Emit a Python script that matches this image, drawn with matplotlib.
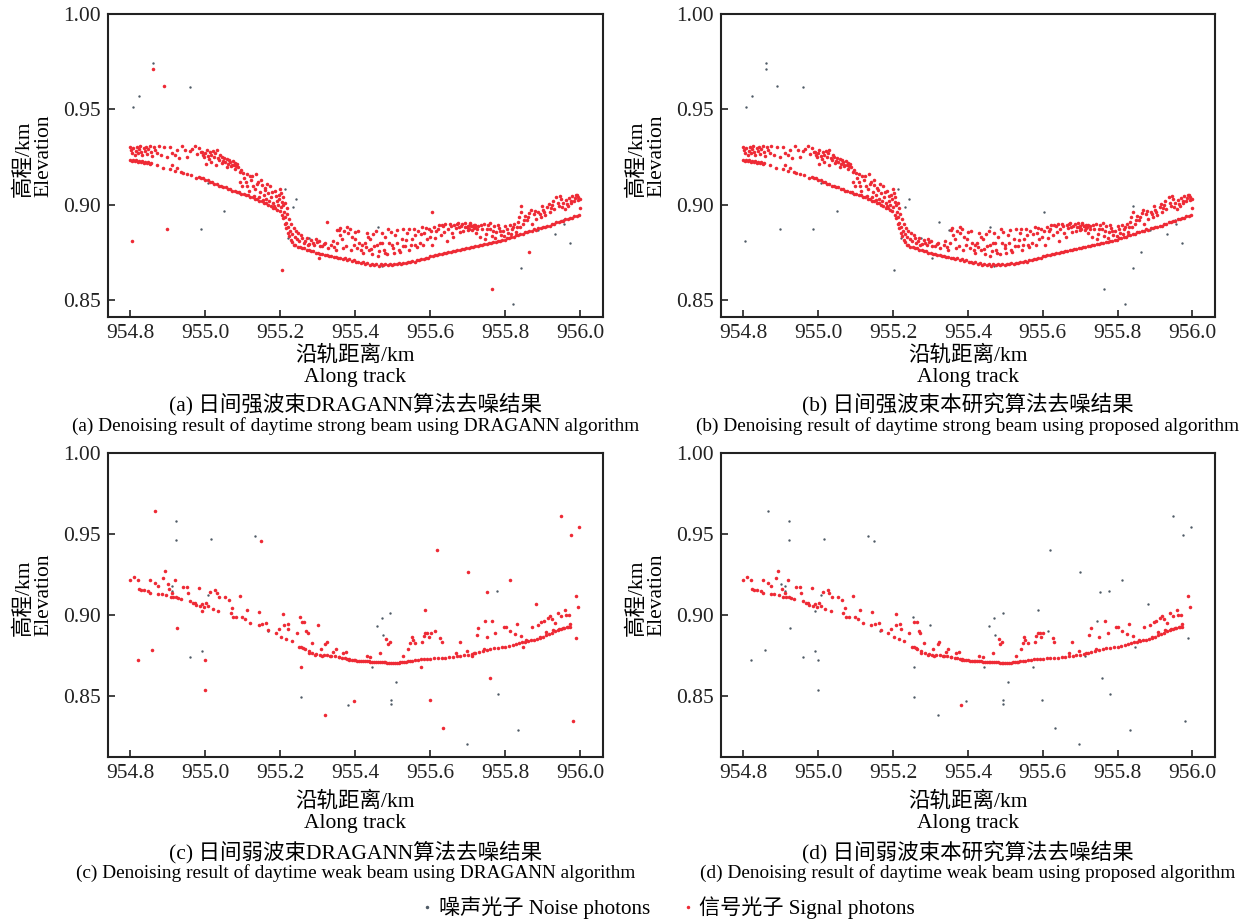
import numpy as np
import matplotlib
matplotlib.use('Agg')
import matplotlib.pyplot as plt
from matplotlib.lines import Line2D

plt.rcParams['font.family'] = ['Liberation Serif', 'Noto Sans CJK SC']
plt.rcParams['axes.unicode_minus'] = False

SIGNAL_COLOR = '#ee2a35'
NOISE_COLOR = '#4f5b66'

# ---- strong beam, daytime ----
# ground return trace
strong_ground = [
    (954.800, 0.9236), (954.804, 0.9230), (954.808, 0.9234), (954.812, 0.9227), (954.816, 0.9232),
    (954.820, 0.9225), (954.824, 0.9230), (954.828, 0.9222), (954.832, 0.9227), (954.836, 0.9219),
    (954.840, 0.9224), (954.844, 0.9217), (954.848, 0.9222), (954.852, 0.9214), (954.856, 0.9219),
    (954.872, 0.9207), (954.888, 0.9193), (954.905, 0.9186), (954.920, 0.9176), (954.935, 0.9171),
    (954.950, 0.9158), (954.962, 0.9153), (954.975, 0.9141),
    (954.982, 0.9147), (954.988, 0.9138), (954.994, 0.9138), (955.000, 0.9128), (955.006, 0.9128),
    (955.012, 0.9118), (955.018, 0.9119), (955.024, 0.9108), (955.030, 0.9108), (955.036, 0.9098),
    (955.042, 0.9099), (955.048, 0.9090), (955.054, 0.9090), (955.060, 0.9081), (955.066, 0.9082),
    (955.072, 0.9072), (955.078, 0.9073), (955.084, 0.9064), (955.090, 0.9065), (955.096, 0.9057),
    (955.102, 0.9057), (955.108, 0.9048), (955.114, 0.9048), (955.120, 0.9038), (955.126, 0.9038),
    (955.132, 0.9028), (955.138, 0.9028), (955.144, 0.9018), (955.150, 0.9017), (955.156, 0.9008),
    (955.162, 0.9006), (955.168, 0.8996), (955.174, 0.8994), (955.180, 0.8983), (955.186, 0.8980),
    (955.192, 0.8970), (955.198, 0.8964), (955.204, 0.8943), (955.208, 0.8927), (955.212, 0.8898),
    (955.216, 0.8877), (955.220, 0.8853), (955.224, 0.8837), (955.228, 0.8813), (955.232, 0.8802),
    (955.236, 0.8788), (955.240, 0.8786), (955.246, 0.8777), (955.252, 0.8777), (955.258, 0.8770),
    (955.264, 0.8770), (955.270, 0.8763), (955.276, 0.8763), (955.282, 0.8756), (955.288, 0.8755),
    (955.294, 0.8748), (955.300, 0.8748), (955.306, 0.8741), (955.312, 0.8742), (955.318, 0.8736),
    (955.324, 0.8737), (955.330, 0.8731), (955.336, 0.8732), (955.342, 0.8725), (955.348, 0.8727),
    (955.354, 0.8720), (955.360, 0.8722), (955.366, 0.8715), (955.372, 0.8717), (955.378, 0.8710),
    (955.384, 0.8712), (955.390, 0.8705), (955.396, 0.8707), (955.402, 0.8700), (955.408, 0.8701),
    (955.414, 0.8695), (955.420, 0.8696), (955.426, 0.8690), (955.432, 0.8691), (955.438, 0.8685),
    (955.444, 0.8687), (955.450, 0.8681), (955.456, 0.8686), (955.462, 0.8680), (955.468, 0.8686),
    (955.474, 0.8683), (955.480, 0.8686), (955.486, 0.8684), (955.492, 0.8689), (955.498, 0.8684),
    (955.504, 0.8690), (955.510, 0.8687), (955.516, 0.8692), (955.522, 0.8690), (955.528, 0.8695),
    (955.534, 0.8693), (955.540, 0.8699), (955.546, 0.8697), (955.552, 0.8703), (955.558, 0.8701),
    (955.564, 0.8708), (955.570, 0.8707), (955.576, 0.8714), (955.582, 0.8714), (955.588, 0.8722),
    (955.594, 0.8722), (955.600, 0.8730), (955.606, 0.8730), (955.612, 0.8737), (955.618, 0.8736),
    (955.624, 0.8743), (955.630, 0.8741), (955.636, 0.8748), (955.642, 0.8746), (955.648, 0.8753),
    (955.654, 0.8751), (955.660, 0.8757), (955.666, 0.8756), (955.672, 0.8762), (955.678, 0.8760),
    (955.684, 0.8767), (955.690, 0.8765), (955.696, 0.8772), (955.702, 0.8770), (955.708, 0.8777),
    (955.714, 0.8775), (955.720, 0.8782), (955.726, 0.8780), (955.732, 0.8787), (955.738, 0.8786),
    (955.744, 0.8792), (955.750, 0.8791), (955.756, 0.8798), (955.762, 0.8797), (955.768, 0.8803),
    (955.774, 0.8802), (955.780, 0.8809), (955.786, 0.8808), (955.792, 0.8815), (955.798, 0.8814),
    (955.804, 0.8822), (955.810, 0.8822), (955.816, 0.8830), (955.822, 0.8830), (955.828, 0.8838),
    (955.834, 0.8838), (955.840, 0.8846), (955.846, 0.8846), (955.852, 0.8854), (955.858, 0.8854),
    (955.864, 0.8862), (955.870, 0.8862), (955.876, 0.8870), (955.882, 0.8869), (955.888, 0.8876),
    (955.894, 0.8875), (955.900, 0.8882), (955.906, 0.8882), (955.912, 0.8890), (955.918, 0.8890),
    (955.924, 0.8898), (955.930, 0.8898), (955.936, 0.8906), (955.942, 0.8906), (955.948, 0.8914),
    (955.954, 0.8914), (955.960, 0.8922), (955.966, 0.8922), (955.972, 0.8930), (955.978, 0.8931),
    (955.984, 0.8939), (955.990, 0.8939), (955.996, 0.8947),
]

# canopy returns above the ground trace
strong_canopy = [
    (954.800, 0.9300), (954.802, 0.9285), (954.805, 0.9270), (954.808, 0.9295), (954.811, 0.9262),
    (954.814, 0.9280), (954.817, 0.9301), (954.820, 0.9268), (954.823, 0.9290), (954.826, 0.9305),
    (954.829, 0.9275), (954.832, 0.9258), (954.835, 0.9295), (954.838, 0.9282), (954.842, 0.9300),
    (954.845, 0.9265), (954.848, 0.9290), (954.851, 0.9305), (954.855, 0.9278), (954.858, 0.9255),
    (954.862, 0.9300), (954.866, 0.9285), (954.870, 0.9268), (954.875, 0.9305), (954.882, 0.9262),
    (954.890, 0.9300), (954.897, 0.9248), (954.905, 0.9300), (954.912, 0.9270), (954.918, 0.9262),
    (954.924, 0.9285), (954.930, 0.9243), (954.938, 0.9305), (954.945, 0.9285), (954.952, 0.9250),
    (954.958, 0.9280), (954.965, 0.9290), (954.972, 0.9305), (954.978, 0.9265), (954.984, 0.9295),
    (954.988, 0.9278), (954.910, 0.9205), (954.925, 0.9190), (954.940, 0.9165),
    (954.990, 0.9275), (954.993, 0.9260), (954.997, 0.9248), (955.000, 0.9270), (955.003, 0.9285),
    (955.006, 0.9255), (955.010, 0.9240), (955.013, 0.9275), (955.016, 0.9262), (955.020, 0.9280),
    (955.023, 0.9250), (955.026, 0.9268), (955.030, 0.9285), (955.033, 0.9245), (955.036, 0.9235),
    (955.040, 0.9262), (955.043, 0.9250), (955.047, 0.9230), (955.050, 0.9245), (955.053, 0.9225),
    (955.057, 0.9240), (955.060, 0.9215), (955.063, 0.9235), (955.066, 0.9225), (955.070, 0.9210),
    (955.073, 0.9230), (955.076, 0.9205), (955.079, 0.9220), (955.082, 0.9200), (955.085, 0.9215),
    (955.088, 0.9195), (955.095, 0.9180), (955.100, 0.9165), (955.104, 0.9140), (955.108, 0.9120),
    (955.112, 0.9095), (955.118, 0.9150), (955.122, 0.9130), (955.127, 0.9100), (955.132, 0.9080),
    (955.136, 0.9160), (955.140, 0.9120), (955.145, 0.9065), (955.150, 0.9105), (955.155, 0.9050),
    (955.158, 0.9085), (955.162, 0.9030), (955.167, 0.9060), (955.172, 0.9095), (955.176, 0.9040),
    (955.180, 0.9010), (955.185, 0.9070), (955.190, 0.9020), (955.195, 0.9050), (955.199, 0.9080),
    (955.202, 0.9060), (955.206, 0.9040), (955.208, 0.9000), (955.210, 0.8960), (955.212, 0.8935),
    (955.215, 0.8905), (955.218, 0.8950), (955.220, 0.8880), (955.223, 0.8925), (955.226, 0.8860),
    (955.229, 0.8900), (955.232, 0.8845), (955.235, 0.8875), (955.238, 0.8830), (955.241, 0.8860),
    (955.244, 0.8820), (955.247, 0.8850), (955.250, 0.8810), (955.255, 0.8840), (955.262, 0.8800),
    (955.270, 0.8825), (955.276, 0.8795), (955.282, 0.8815), (955.290, 0.8790), (955.297, 0.8805),
    (955.305, 0.8785), (955.312, 0.8780), (955.320, 0.8800), (955.335, 0.8790), (955.343, 0.8775),
    (955.355, 0.8865), (955.360, 0.8840), (955.365, 0.8820), (955.370, 0.8860), (955.375, 0.8780),
    (955.380, 0.8850), (955.385, 0.8870), (955.390, 0.8830), (955.395, 0.8790), (955.400, 0.8855),
    (955.405, 0.8770), (955.410, 0.8800), (955.415, 0.8760), (955.420, 0.8745), (955.425, 0.8800),
    (955.430, 0.8850), (955.436, 0.8760), (955.440, 0.8820), (955.445, 0.8740), (955.450, 0.8780),
    (955.455, 0.8860), (955.460, 0.8730), (955.466, 0.8800), (955.470, 0.8850), (955.475, 0.8760),
    (955.480, 0.8830), (955.485, 0.8740), (955.490, 0.8800), (955.495, 0.8855), (955.500, 0.8770),
    (955.506, 0.8840), (955.512, 0.8865), (955.518, 0.8750), (955.523, 0.8820), (955.528, 0.8870),
    (955.533, 0.8780), (955.538, 0.8850), (955.544, 0.8760), (955.550, 0.8820), (955.555, 0.8870),
    (955.560, 0.8790), (955.566, 0.8860), (955.572, 0.8800), (955.578, 0.8880), (955.584, 0.8850),
    (955.590, 0.8820), (955.595, 0.8870), (955.605, 0.8790), (955.610, 0.8880), (955.616, 0.8860),
    (955.622, 0.8895), (955.628, 0.8840), (955.634, 0.8885), (955.640, 0.8900), (955.646, 0.8870),
    (955.652, 0.8900), (955.658, 0.8850), (955.664, 0.8895), (955.670, 0.8900), (955.676, 0.8880),
    (955.682, 0.8890), (955.688, 0.8860), (955.693, 0.8905), (955.697, 0.8880), (955.700, 0.8890),
    (955.703, 0.8870), (955.706, 0.8900), (955.709, 0.8885), (955.712, 0.8865), (955.715, 0.8895),
    (955.718, 0.8880), (955.722, 0.8850), (955.727, 0.8890), (955.732, 0.8830), (955.737, 0.8870),
    (955.742, 0.8900), (955.748, 0.8845), (955.753, 0.8895), (955.758, 0.8870), (955.764, 0.8835),
    (955.770, 0.8890), (955.776, 0.8855), (955.782, 0.8875), (955.788, 0.8840), (955.794, 0.8860),
    (955.800, 0.8890), (955.806, 0.8850), (955.812, 0.8895), (955.818, 0.8870), (955.824, 0.8900),
    (955.830, 0.8880), (955.836, 0.8935), (955.841, 0.8960), (955.846, 0.8900), (955.852, 0.8940),
    (955.858, 0.8920), (955.864, 0.8955), (955.870, 0.8900), (955.876, 0.8950), (955.882, 0.8925),
    (955.888, 0.8960), (955.894, 0.8935), (955.900, 0.8970), (955.906, 0.8945), (955.912, 0.8985),
    (955.918, 0.8960), (955.924, 0.9000), (955.930, 0.8975), (955.936, 0.9040), (955.942, 0.8990),
    (955.948, 0.9030), (955.954, 0.9010), (955.958, 0.8975), (955.962, 0.9025), (955.966, 0.8995),
    (955.970, 0.9035), (955.974, 0.9010), (955.978, 0.9045), (955.982, 0.9020), (955.986, 0.9035),
    (955.990, 0.9050), (955.994, 0.9040), (955.998, 0.9030), (955.999, 0.8980),
    (955.002, 0.9215), (955.015, 0.9225), (955.028, 0.9210), (955.045, 0.9218), (955.058, 0.9195),
    (955.068, 0.9200), (955.080, 0.9185), (955.092, 0.9170), (955.093, 0.9120), (955.098, 0.9100),
    (955.110, 0.9160), (955.115, 0.9070), (955.125, 0.9150), (955.130, 0.9045), (955.138, 0.9110),
    (955.143, 0.9040), (955.148, 0.9130), (955.153, 0.9025), (955.160, 0.9075), (955.165, 0.9110),
    (955.170, 0.9020), (955.178, 0.9065), (955.183, 0.8995), (955.188, 0.9045), (955.193, 0.9000),
    (955.197, 0.9030), (955.201, 0.8985), (955.205, 0.9015), (955.213, 0.9010), (955.217, 0.8980),
    (955.258, 0.8825), (955.266, 0.8810), (955.273, 0.8790), (955.286, 0.8800), (955.294, 0.8820),
    (955.302, 0.8810), (955.316, 0.8795), (955.326, 0.8770), (955.340, 0.8810), (955.347, 0.8760),
    (955.352, 0.8800), (955.358, 0.8875), (955.368, 0.8770), (955.378, 0.8880), (955.388, 0.8760),
    (955.398, 0.8820), (955.408, 0.8860), (955.418, 0.8790), (955.428, 0.8775), (955.434, 0.8830),
    (955.442, 0.8765), (955.448, 0.8845), (955.458, 0.8790), (955.463, 0.8755), (955.472, 0.8800),
    (955.478, 0.8745), (955.488, 0.8870), (955.498, 0.8790), (955.503, 0.8745), (955.510, 0.8800),
    (955.515, 0.8760), (955.526, 0.8780), (955.536, 0.8815), (955.542, 0.8870), (955.548, 0.8790),
    (955.558, 0.8840), (955.563, 0.8775), (955.575, 0.8845), (955.581, 0.8790), (955.587, 0.8875),
    (955.598, 0.8830), (955.602, 0.8860), (955.613, 0.8825), (955.619, 0.8870), (955.631, 0.8895),
    (955.637, 0.8855), (955.643, 0.8810), (955.655, 0.8885), (955.661, 0.8830), (955.667, 0.8875),
    (955.673, 0.8905), (955.679, 0.8855), (955.685, 0.8900), (955.691, 0.8880), (955.699, 0.8865),
    (955.705, 0.8905), (955.711, 0.8890), (955.716, 0.8875), (955.720, 0.8895), (955.725, 0.8870),
    (955.735, 0.8895), (955.745, 0.8820), (955.750, 0.8870), (955.760, 0.8905), (955.767, 0.8860),
    (955.773, 0.8825), (955.779, 0.8895), (955.785, 0.8860), (955.797, 0.8835), (955.803, 0.8870),
    (955.815, 0.8845), (955.821, 0.8880), (955.827, 0.8855), (955.833, 0.8910), (955.839, 0.8880),
    (955.849, 0.8920), (955.861, 0.8935), (955.867, 0.8970), (955.879, 0.8965), (955.891, 0.8950),
    (955.897, 0.8990), (955.903, 0.8960), (955.915, 0.9005), (955.921, 0.8980), (955.927, 0.9020),
    (955.939, 0.9010), (955.945, 0.9045), (955.951, 0.8985), (955.963, 0.9005), (955.975, 0.9020),
    (955.987, 0.9050), (955.993, 0.9025),
]

# kept by DRAGANN, rejected by the proposed method
strong_outliers = [
    (954.861, 0.9712), (954.889, 0.9621), (954.804, 0.8811), (954.898, 0.8871),
    (955.203, 0.8654), (955.764, 0.8559), (955.862, 0.8753), (955.323, 0.8911),
    (955.604, 0.8960), (955.842, 0.8993), (955.350, 0.8867), (955.303, 0.8719),
]

# rejected by both methods
strong_noise = [
    (954.861, 0.9741), (954.823, 0.9572), (954.807, 0.9514), (954.958, 0.9615),
    (955.049, 0.8967), (954.987, 0.8871), (955.212, 0.9084), (955.242, 0.9030),
    (955.233, 0.8986), (955.221, 0.8825), (955.275, 0.8825), (955.459, 0.8881),
    (955.470, 0.8680), (955.842, 0.8666), (955.819, 0.8477), (955.931, 0.8843),
    (955.973, 0.8797), (955.956, 0.8899), (955.007, 0.9115), (955.090, 0.9059),
    (955.886, 0.8867), (955.953, 0.8920),
]

# ---- weak beam, daytime ----
weak_ground = [
    (955.255, 0.8800), (955.265, 0.8788), (955.275, 0.8775), (955.285, 0.8765), (955.295, 0.8756),
    (955.305, 0.8752), (955.315, 0.8750), (955.325, 0.8748), (955.335, 0.8745), (955.345, 0.8742),
    (955.355, 0.8738), (955.365, 0.8735), (955.372, 0.8730), (955.378, 0.8726), (955.384, 0.8722),
    (955.390, 0.8720), (955.395, 0.8718), (955.400, 0.8717), (955.405, 0.8716), (955.410, 0.8715),
    (955.415, 0.8714), (955.420, 0.8713), (955.425, 0.8712), (955.430, 0.8711), (955.435, 0.8711),
    (955.440, 0.8710), (955.445, 0.8710), (955.450, 0.8709), (955.455, 0.8708), (955.460, 0.8708),
    (955.465, 0.8707), (955.470, 0.8706), (955.475, 0.8706), (955.480, 0.8705), (955.485, 0.8703),
    (955.490, 0.8702), (955.495, 0.8701), (955.500, 0.8700), (955.505, 0.8701), (955.510, 0.8702),
    (955.515, 0.8703), (955.520, 0.8705), (955.525, 0.8706), (955.530, 0.8708), (955.535, 0.8710),
    (955.540, 0.8712), (955.546, 0.8714), (955.552, 0.8716), (955.560, 0.8719), (955.568, 0.8722),
    (955.576, 0.8724), (955.584, 0.8726), (955.592, 0.8727), (955.600, 0.8728), (955.610, 0.8729),
    (955.620, 0.8730), (955.630, 0.8732), (955.640, 0.8734), (955.650, 0.8736), (955.660, 0.8739),
    (955.670, 0.8742), (955.680, 0.8745), (955.690, 0.8749), (955.700, 0.8753), (955.710, 0.8758),
    (955.720, 0.8764), (955.730, 0.8770), (955.740, 0.8776), (955.750, 0.8782), (955.760, 0.8787),
    (955.770, 0.8791), (955.780, 0.8795), (955.790, 0.8799), (955.800, 0.8803), (955.810, 0.8808),
    (955.820, 0.8814), (955.828, 0.8820), (955.836, 0.8826), (955.844, 0.8830), (955.852, 0.8834),
    (955.860, 0.8838), (955.868, 0.8842), (955.876, 0.8846), (955.884, 0.8850), (955.892, 0.8856),
    (955.900, 0.8864), (955.908, 0.8872), (955.916, 0.8880), (955.924, 0.8888), (955.932, 0.8896),
    (955.940, 0.8904), (955.948, 0.8910), (955.956, 0.8916), (955.964, 0.8922), (955.972, 0.8926),
]

weak_canopy = [
    (954.800, 0.9215), (954.810, 0.9231), (954.820, 0.9213), (954.823, 0.9159), (954.829, 0.9155),
    (954.836, 0.9153), (954.847, 0.9145), (954.852, 0.9136), (954.853, 0.9213), (954.865, 0.9198),
    (954.874, 0.9180), (954.874, 0.9128), (954.883, 0.9128), (954.887, 0.9227), (954.892, 0.9273),
    (954.894, 0.9120), (954.903, 0.9157), (954.907, 0.9112), (954.910, 0.9132), (954.914, 0.9112),
    (954.918, 0.9215), (954.921, 0.9112), (954.927, 0.9103), (954.934, 0.9099), (954.941, 0.9174),
    (954.950, 0.9169), (954.954, 0.9136), (954.958, 0.9083), (954.966, 0.9074), (954.972, 0.9070),
    (954.976, 0.9062), (954.983, 0.9163), (954.985, 0.9054), (954.990, 0.9066), (954.996, 0.9050),
    (955.001, 0.9070), (955.007, 0.9054), (955.012, 0.9143), (955.019, 0.9033), (955.025, 0.9153),
    (955.030, 0.9132), (955.034, 0.9021), (955.037, 0.9107), (955.052, 0.9107), (955.064, 0.9091),
    (955.067, 0.9008), (955.071, 0.9039), (955.074, 0.8988), (955.081, 0.8988), (955.092, 0.9114),
    (955.098, 0.8988), (955.105, 0.8971), (955.112, 0.9029), (955.120, 0.8950), (955.144, 0.9017),
    (955.142, 0.8934), (955.152, 0.8942), (955.161, 0.8950), (955.168, 0.8905), (955.187, 0.8884),
    (955.195, 0.8909), (955.202, 0.8860), (955.208, 0.9004), (955.209, 0.8934), (955.215, 0.8851),
    (955.219, 0.8942), (955.221, 0.8913), (955.230, 0.8835), (955.243, 0.8884), (955.250, 0.8802),
    (955.257, 0.8957), (955.260, 0.8791), (955.263, 0.8957), (955.268, 0.8901), (955.273, 0.8888),
    (955.275, 0.8760), (955.283, 0.8826), (955.292, 0.8750), (955.307, 0.8785), (955.310, 0.8744),
    (955.319, 0.8818), (955.323, 0.8829), (955.332, 0.8744), (955.341, 0.8771), (955.347, 0.8785),
    (955.355, 0.8740), (955.368, 0.8760), (955.375, 0.8771), (955.384, 0.8723), (955.430, 0.8744),
    (955.439, 0.8736), (955.466, 0.8760), (955.482, 0.8847), (955.486, 0.8818), (955.491, 0.8833),
    (955.528, 0.8744), (955.541, 0.8785), (955.546, 0.8826), (955.551, 0.8864), (955.553, 0.8843),
    (955.560, 0.8822), (955.578, 0.8833), (955.582, 0.8868), (955.586, 0.8888), (955.592, 0.8884),
    (955.596, 0.8860), (955.601, 0.8884), (955.626, 0.8853), (955.630, 0.8833), (955.669, 0.8764),
    (955.679, 0.8833), (955.697, 0.8777), (955.715, 0.8764), (955.723, 0.8874), (955.728, 0.8915),
    (955.743, 0.8785), (955.751, 0.8864), (955.765, 0.8961), (955.773, 0.8888), (955.795, 0.8926),
    (955.801, 0.8926), (955.813, 0.8897), (955.826, 0.8880), (955.831, 0.8942), (955.841, 0.8868),
    (955.856, 0.8843), (955.870, 0.8926), (955.886, 0.8936), (955.891, 0.8864), (955.896, 0.8957),
    (955.903, 0.8963), (955.909, 0.8895), (955.914, 0.8977), (955.918, 0.8992), (955.923, 0.8971),
    (955.927, 0.8905), (955.932, 0.8946), (955.939, 0.9012), (955.942, 0.8909), (955.949, 0.8992),
    (955.953, 0.8915), (955.958, 0.9029), (955.962, 0.8998), (955.966, 0.8926), (955.969, 0.8998),
    (955.972, 0.8940), (955.987, 0.9117), (955.993, 0.9048),
]

weak_outliers = [
    (954.865, 0.9643), (955.149, 0.9455), (955.618, 0.9400), (955.700, 0.9264), (955.948, 0.9610),
    (955.974, 0.9490), (955.996, 0.9540), (955.811, 0.9217), (955.882, 0.9066), (955.752, 0.9138),
    (955.586, 0.9030), (954.820, 0.8720), (954.858, 0.8779), (954.924, 0.8917), (955.000, 0.8720),
    (955.000, 0.8537), (955.256, 0.8674), (955.319, 0.8380), (955.396, 0.8465), (955.599, 0.8470),
    (955.633, 0.8300), (955.759, 0.8607), (955.981, 0.8343), (955.987, 0.8857), (955.575, 0.8676),
    (955.745, 0.8960), (955.712, 0.8744), (955.847, 0.8800), (955.613, 0.8897), (955.252, 0.8988),
    (955.299, 0.8934), (954.990, 0.9021), (954.901, 0.9190),
]

# rejected by DRAGANN, kept by the proposed method
weak_recovered = [(955.381, 0.8444)]

weak_noise = [
    (954.922, 0.9580), (954.922, 0.9463), (955.015, 0.9469), (955.133, 0.9488), (954.912, 0.9180),
    (954.912, 0.9149), (955.007, 0.9120), (955.166, 0.8901), (954.960, 0.8736), (954.991, 0.8773),
    (955.255, 0.8492), (955.443, 0.8678), (955.457, 0.8928), (955.470, 0.8977), (955.473, 0.8872),
    (955.493, 0.9012), (955.495, 0.8475), (955.495, 0.8446), (955.507, 0.8583), (955.697, 0.8200),
    (955.777, 0.9145), (955.779, 0.8508), (955.833, 0.8289),
]

x_ticks = [954.8, 955.0, 955.2, 955.4, 955.6, 955.8, 956.0]
y_ticks = [0.85, 0.90, 0.95, 1.00]

panels = [
    # (axes rect, ylim, signal groups, noise groups, caption zh, caption en, caption rows px, xlabel pad)
    ([0.0865, 0.6562, 0.3966, 0.3286], (0.841, 1.0),
     [strong_ground, strong_canopy, strong_outliers], [strong_noise],
     '(a) 日间强波束DRAGANN算法去噪结果',
     '(a) Denoising result of daytime strong beam using DRAGANN algorithm', (404, 426), 2),
    ([0.5777, 0.6562, 0.3958, 0.3286], (0.841, 1.0),
     [strong_ground, strong_canopy], [strong_noise, strong_outliers],
     '(b) 日间强波束本研究算法去噪结果',
     '(b) Denoising result of daytime strong beam using proposed algorithm', (404, 426), 2),
    ([0.0865, 0.1790, 0.3966, 0.3297], (0.812, 1.0),
     [weak_ground, weak_canopy, weak_outliers], [weak_noise, weak_recovered],
     '(c) 日间弱波束DRAGANN算法去噪结果',
     '(c) Denoising result of daytime weak beam using DRAGANN algorithm', (852, 873), 6),
    ([0.5777, 0.1790, 0.3958, 0.3297], (0.812, 1.0),
     [weak_ground, weak_canopy, weak_recovered], [weak_noise, weak_outliers],
     '(d) 日间弱波束本研究算法去噪结果',
     '(d) Denoising result of daytime weak beam using proposed algorithm', (852, 873), 6),
]


def stack(groups):
    pts = np.array([p for g in groups for p in g])
    return pts[:, 0], pts[:, 1]


fig = plt.figure(figsize=(12.48, 9.22), dpi=100)
H = 922.0

for rect, ylim, sig, noi, cap_zh, cap_en, cap_rows, xpad in panels:
    ax = fig.add_axes(rect)
    nx, ny = stack(noi)
    sx, sy = stack(sig)
    ax.scatter(nx, ny, s=3, color=NOISE_COLOR, linewidths=0, zorder=2)
    ax.scatter(sx, sy, s=6.5, color=SIGNAL_COLOR, linewidths=0, zorder=3)
    ax.set_xlim(954.74, 956.06)
    ax.set_ylim(*ylim)
    ax.set_xticks(x_ticks)
    ax.set_xticklabels([f'{t:.1f}' for t in x_ticks])
    ax.set_yticks(y_ticks)
    ax.set_yticklabels([f'{t:.2f}' for t in y_ticks])
    ax.tick_params(direction='in', length=5, width=1.2, labelsize=15.5, pad=5, colors='#222222')
    for sp in ax.spines.values():
        sp.set_linewidth(1.5)
        sp.set_color('#222222')
    ax.set_ylabel('高程/km\nElevation', fontsize=15.5, linespacing=1.0, multialignment='left')
    h_px = rect[3] * H
    ax.yaxis.set_label_coords(-55 / (rect[2] * 1248), 0.5 + 10 / h_px)
    ax.set_xlabel('沿轨距离/km\nAlong track', fontsize=15.5, linespacing=1.15, labelpad=xpad)

    # captions under each panel
    cx = rect[0] + rect[2] / 2
    fig.text(cx, 1 - cap_rows[0] / H, cap_zh, ha='center', va='center', fontsize=15.5)
    fig.text(cx, 1 - cap_rows[1] / H, cap_en, ha='center', va='center', fontsize=13.9)

handles = [
    Line2D([], [], marker='o', ls='', color=NOISE_COLOR, ms=2.5, mew=0, label='噪声光子 Noise photons'),
    Line2D([], [], marker='o', ls='', color=SIGNAL_COLOR, ms=2.5, mew=0, label='信号光子 Signal photons'),
]
fig.legend(handles=handles, loc='center', bbox_to_anchor=(0.536, 0.0152), ncol=2, frameon=False,
           fontsize=15.2, handlelength=0.4, handletextpad=0.35, columnspacing=1.6)

fig.savefig('out.png', dpi=100)
